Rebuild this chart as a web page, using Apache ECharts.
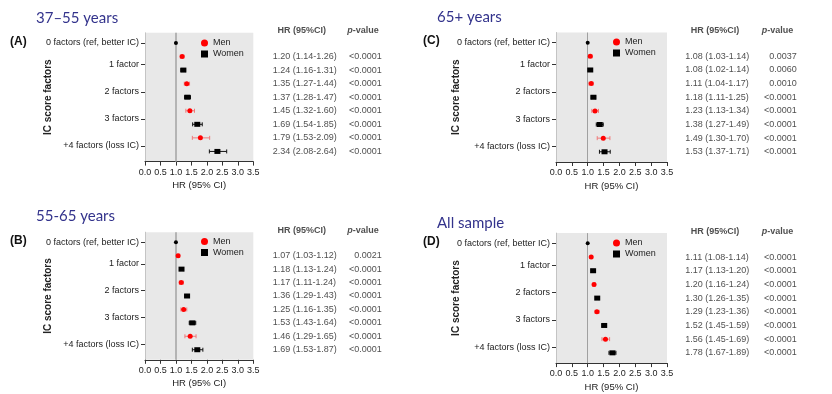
<!DOCTYPE html>
<html>
<head>
<meta charset="utf-8">
<script src="https://cdn.jsdelivr.net/npm/echarts@6/dist/echarts.min.js"></script>
<style>html,body{margin:0;padding:0;background:#fff}#c{width:832px;height:394px}</style>
</head>
<body>
<div id="c"></div>
<script>
// ---------------- DATA ----------------
const catLabels = ['0 factors (ref, better IC)', '1 factor', '2 factors', '3 factors', '+4 factors (loss IC)'];
const catPos = [0, 1.6, 3.6, 5.6, 7.6];
const panelTitles = ['37–55 years', '55-65 years', '65+ years', 'All sample'];
const panelLetters = ['(A)', '(B)', '(C)', '(D)'];
const refHR = 1.0;

// (A) 37–55 years
const A_menHR = [1.20, 1.35, 1.45, 1.79];
const A_menLo = [1.14, 1.27, 1.32, 1.53];
const A_menHi = [1.26, 1.44, 1.60, 2.09];
const A_womenHR = [1.24, 1.37, 1.69, 2.34];
const A_womenLo = [1.16, 1.28, 1.54, 2.08];
const A_womenHi = [1.31, 1.47, 1.85, 2.64];
const A_p = ['<0.0001', '<0.0001', '<0.0001', '<0.0001', '<0.0001', '<0.0001', '<0.0001', '<0.0001'];

// (B) 55-65 years
const B_menHR = [1.07, 1.17, 1.25, 1.46];
const B_menLo = [1.03, 1.11, 1.16, 1.29];
const B_menHi = [1.12, 1.24, 1.35, 1.65];
const B_womenHR = [1.18, 1.36, 1.53, 1.69];
const B_womenLo = [1.13, 1.29, 1.43, 1.53];
const B_womenHi = [1.24, 1.43, 1.64, 1.87];
const B_p = ['0.0021', '<0.0001', '<0.0001', '<0.0001', '<0.0001', '<0.0001', '<0.0001', '<0.0001'];

// (C) 65+ years
const C_menHR = [1.08, 1.11, 1.23, 1.49];
const C_menLo = [1.03, 1.04, 1.13, 1.30];
const C_menHi = [1.14, 1.17, 1.34, 1.70];
const C_womenHR = [1.08, 1.18, 1.38, 1.53];
const C_womenLo = [1.02, 1.11, 1.27, 1.37];
const C_womenHi = [1.14, 1.25, 1.49, 1.71];
const C_p = ['0.0037', '0.0060', '0.0010', '<0.0001', '<0.0001', '<0.0001', '<0.0001', '<0.0001'];

// (D) All sample
const D_menHR = [1.11, 1.20, 1.29, 1.56];
const D_menLo = [1.08, 1.16, 1.23, 1.45];
const D_menHi = [1.14, 1.24, 1.36, 1.69];
const D_womenHR = [1.17, 1.30, 1.52, 1.78];
const D_womenLo = [1.13, 1.26, 1.45, 1.67];
const D_womenHi = [1.20, 1.35, 1.59, 1.89];
const D_p = ['<0.0001', '<0.0001', '<0.0001', '<0.0001', '<0.0001', '<0.0001', '<0.0001', '<0.0001'];

const panelsData = [
  {menHR: A_menHR, menLo: A_menLo, menHi: A_menHi, womenHR: A_womenHR, womenLo: A_womenLo, womenHi: A_womenHi, p: A_p},
  {menHR: B_menHR, menLo: B_menLo, menHi: B_menHi, womenHR: B_womenHR, womenLo: B_womenLo, womenHi: B_womenHi, p: B_p},
  {menHR: C_menHR, menLo: C_menLo, menHi: C_menHi, womenHR: C_womenHR, womenLo: C_womenLo, womenHi: C_womenHi, p: C_p},
  {menHR: D_menHR, menLo: D_menLo, menHi: D_menHi, womenHR: D_womenHR, womenLo: D_womenLo, womenHi: D_womenHi, p: D_p}
];

// ---------------- LAYOUT / STYLE ----------------
const FONT = '"Liberation Sans", Arial, sans-serif';
const TXT = '#222';
const layout = [
  {plot: {left: 145, top: 32.8, width: 108.3, height: 128.8}, table: {left: 272.7, width: 109},
   title: {left: 36, top: 10.5}, letter: {left: 10, top: 35.5}, legend: {left: 201, top: 38.5}, refW: 2, nameGap: 92},
  {plot: {left: 145, top: 232.2, width: 108.3, height: 127.6}, table: {left: 272.7, width: 109},
   title: {left: 36, top: 208.5}, letter: {left: 10, top: 235}, legend: {left: 201, top: 237}, refW: 2, nameGap: 92},
  {plot: {left: 556, top: 32.5, width: 111, height: 129.5}, table: {left: 685.3, width: 111.4},
   title: {left: 437, top: 9.5}, letter: {left: 423, top: 35}, legend: {left: 613, top: 37.5}, refW: 1, nameGap: 95},
  {plot: {left: 556, top: 233.1, width: 111, height: 130}, table: {left: 685.3, width: 111.4},
   title: {left: 437, top: 216}, letter: {left: 423, top: 235.5}, legend: {left: 613, top: 238.5}, refW: 1, nameGap: 95}
];
const Y_MIN = -0.75, Y_MAX = 8.75, HEAD_ROW = -0.9;

const grid = [], xAxis = [], yAxis = [], series = [], title = [], legend = [];

function errRender(color) {
  return function (params, api) {
    const a = api.coord([api.value(0), api.value(2)]);
    const b = api.coord([api.value(1), api.value(2)]);
    const h = 2;
    const st = {stroke: color, lineWidth: 1};
    return {type: 'group', children: [
      {type: 'line', shape: {x1: a[0], y1: a[1], x2: b[0], y2: b[1]}, style: st},
      {type: 'line', shape: {x1: a[0], y1: a[1] - h, x2: a[0], y2: a[1] + h}, style: st},
      {type: 'line', shape: {x1: b[0], y1: b[1] - h, x2: b[0], y2: b[1] + h}, style: st}
    ]};
  };
}

panelsData.forEach((d, i) => {
  const L = layout[i];
  const gi = grid.length;
  grid.push(Object.assign({show: true, backgroundColor: '#e8e8e8', borderWidth: 0}, L.plot));
  xAxis.push({
    gridIndex: gi, type: 'value', position: 'bottom', min: 0, max: 3.5, interval: 0.5,
    name: 'HR (95% CI)', nameLocation: 'middle', nameGap: 19, nameMoveOverlap: false,
    nameTextStyle: {fontFamily: FONT, fontSize: 9.5, color: TXT},
    axisLine: {show: true, onZero: false, lineStyle: {color: '#333', width: 1}},
    axisTick: {show: true, length: 4, lineStyle: {color: '#333'}},
    axisLabel: {fontFamily: FONT, fontSize: 9, color: TXT, margin: 6, formatter: v => v.toFixed(1)},
    splitLine: {show: false}
  });
  yAxis.push({
    gridIndex: gi, type: 'value', inverse: true, min: Y_MIN, max: Y_MAX,
    name: 'IC score factors', nameLocation: 'middle', nameRotate: 90, nameGap: L.nameGap, nameMoveOverlap: false,
    nameTextStyle: {fontFamily: FONT, fontSize: 10, fontWeight: 'bold', color: TXT},
    axisLine: {show: true, onZero: false, lineStyle: {color: '#c4c4c4', width: 1}},
    axisTick: {show: true, length: 4, customValues: catPos, lineStyle: {color: '#333'}},
    axisLabel: {show: true, customValues: catPos, fontFamily: FONT, fontSize: 9, color: TXT, margin: 6,
      formatter: v => { const k = catPos.findIndex(c => Math.abs(c - v) < 1e-6); return k >= 0 ? catLabels[k] : ''; }},
    splitLine: {show: false}
  });
  // table grid
  const ti = grid.length;
  grid.push({left: L.table.left, width: L.table.width, top: L.plot.top, height: L.plot.height, show: false});
  xAxis.push({gridIndex: ti, type: 'value', min: 0, max: 1, show: false});
  yAxis.push({gridIndex: ti, type: 'value', inverse: true, min: Y_MIN, max: Y_MAX, show: false});

  const menRows = d.menHR.map((_, k) => 2 * k + 1);
  const womenRows = d.womenHR.map((_, k) => 2 * k + 2);

  // error bars
  series.push({type: 'custom', name: 'menCI', xAxisIndex: gi, yAxisIndex: gi, silent: true, z: 3,
    renderItem: errRender('#f07a7a'), encode: {x: [0, 1], y: 2},
    data: d.menLo.map((lo, k) => [lo, d.menHi[k], menRows[k]])});
  series.push({type: 'custom', name: 'womenCI', xAxisIndex: gi, yAxisIndex: gi, silent: true, z: 3,
    renderItem: errRender('#111'), encode: {x: [0, 1], y: 2},
    data: d.womenLo.map((lo, k) => [lo, d.womenHi[k], womenRows[k]])});
  // reference point and line
  series.push({type: 'scatter', name: 'ref', xAxisIndex: gi, yAxisIndex: gi, silent: true, z: 4,
    symbol: 'circle', symbolSize: 4, itemStyle: {color: '#000', opacity: 1}, data: [[refHR, 0]],
    markLine: {silent: true, symbol: 'none', label: {show: false}, z: 1,
      lineStyle: {color: L.refW > 1 ? '#b4b4b4' : '#a0a0a0', width: L.refW, type: 'solid', opacity: 1},
      data: [{xAxis: refHR}]}});
  // markers
  series.push({type: 'scatter', name: 'Men', xAxisIndex: gi, yAxisIndex: gi, silent: true, z: 5,
    symbol: 'circle', symbolSize: 5, itemStyle: {color: '#ff0000', opacity: 1},
    data: d.menHR.map((v, k) => [v, menRows[k]])});
  series.push({type: 'scatter', name: 'Women', xAxisIndex: gi, yAxisIndex: gi, silent: true, z: 5,
    symbol: 'rect', symbolSize: [6, 5], itemStyle: {color: '#000', opacity: 1},
    data: d.womenHR.map((v, k) => [v, womenRows[k]])});

  // table
  const fmt = (h, lo, hi) => `${h.toFixed(2)} (${lo.toFixed(2)}-${hi.toFixed(2)})`;
  const hrRows = [];
  d.menHR.forEach((_, k) => {
    hrRows.push([0, menRows[k], fmt(d.menHR[k], d.menLo[k], d.menHi[k])]);
    hrRows.push([0, womenRows[k], fmt(d.womenHR[k], d.womenLo[k], d.womenHi[k])]);
  });
  const tbl = (name, data, align, extra) => ({
    type: 'scatter', name, xAxisIndex: ti, yAxisIndex: ti, silent: true, clip: false,
    symbol: 'circle', symbolSize: 1, itemStyle: {color: 'rgba(0,0,0,0)'},
    label: Object.assign({show: true, position: 'inside', align, verticalAlign: 'middle',
      fontFamily: FONT, fontSize: 9, color: TXT, formatter: p => p.data[2]}, extra || {}),
    data
  });
  series.push(tbl('hrText', hrRows, 'left'));
  series.push(tbl('pText', d.p.map((s, k) => [1, k + 1, s]), 'right'));
  series.push(tbl('hrHead', [[0.266, HEAD_ROW, 'HR (95%CI)']], 'center', {fontWeight: 'bold'}));
  series.push(tbl('pHead', [[0.828, HEAD_ROW, '{i|p}-value']], 'center',
    {fontWeight: 'bold', rich: {i: {fontStyle: 'italic', fontWeight: 'bold', fontFamily: FONT, fontSize: 9, color: TXT}}}));

  // titles
  title.push({text: panelTitles[i], left: L.title.left, top: L.title.top, padding: 0,
    textStyle: {fontFamily: 'Lato, "Open Sans", sans-serif', fontSize: 15, fontWeight: 'normal', color: '#33338c'}});
  title.push({text: panelLetters[i], left: L.letter.left, top: L.letter.top, padding: 0,
    textStyle: {fontFamily: FONT, fontSize: 12, fontWeight: 'bold', color: '#111'}});
  legend.push({orient: 'vertical', left: L.legend.left, top: L.legend.top, padding: 0,
    itemWidth: 7, itemHeight: 7, itemGap: 2, selectedMode: false,
    textStyle: {fontFamily: FONT, fontSize: 9, color: TXT},
    data: [{name: 'Men', icon: 'circle', itemStyle: {color: '#ff0000', opacity: 1}}, {name: 'Women', icon: 'rect', itemStyle: {color: '#000', opacity: 1}}]});
});

const chart = echarts.init(document.getElementById('c'), null, {renderer: 'canvas'});
chart.setOption({animation: false, backgroundColor: '#fff', title, legend, grid, xAxis, yAxis, series});
</script>
</body>
</html>
